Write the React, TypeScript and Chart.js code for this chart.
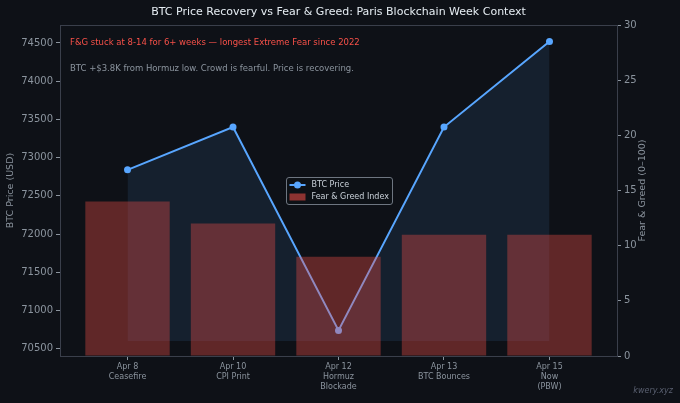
import { useEffect, useRef } from "react";
import { Chart, registerables } from "chart.js";

Chart.register(...registerables);

const categories: string[][] = [
  ["Apr 8", "Ceasefire"],
  ["Apr 10", "CPI Print"],
  ["Apr 12", "Hormuz", "Blockade"],
  ["Apr 13", "BTC Bounces"],
  ["Apr 15", "Now", "(PBW)"],
];
const btcPrice = [72840, 73400, 70740, 73400, 74520];
const fearGreed = [14, 12, 9, 11, 11];
const fillBase = 70600;
const priceTicks = [70500, 71000, 71500, 72000, 72500, 73000, 73500, 74000, 74500];
const fgTicks = [0, 5, 10, 15, 20, 25, 30];

const titleText = "BTC Price Recovery vs Fear & Greed: Paris Blockchain Week Context";
const noteRed = "F&G stuck at 8-14 for 6+ weeks \u2014 longest Extreme Fear since 2022";
const noteGrey = "BTC +$3.8K from Hormuz low. Crowd is fearful. Price is recovering.";
const leftTitle = "BTC Price (USD)";
const rightTitle = "Fear & Greed (0\u2013100)";
const watermark = "kwery.xyz";

const FONT = "'DejaVu Sans', sans-serif";
const BG = "#0e1117";
const TEXT = "#8b949e";
const SPINE = "#3a3f4b";
const BLUE = "#58a6ff";
const RED = "#f85149";

export default function App() {
  const ref = useRef<HTMLCanvasElement | null>(null);

  useEffect(() => {
    document.body.style.margin = "0";
    document.body.style.background = BG;
    const canvas = ref.current;
    if (!canvas) return;

    const decor = {
      id: "decor",
      beforeDraw(chart: any) {
        const c = chart.ctx;
        c.save();
        c.fillStyle = BG;
        c.fillRect(0, 0, chart.width, chart.height);
        c.restore();
      },
      afterDatasetsDraw(chart: any) {
        const c = chart.ctx;
        const a = chart.chartArea;
        c.save();
        c.strokeStyle = SPINE;
        c.lineWidth = 1;
        c.strokeRect(a.left + 0.5, a.top + 0.5, a.right - a.left, a.bottom - a.top);
        c.restore();
      },
      afterDraw(chart: any) {
        const c = chart.ctx;
        const a = chart.chartArea;
        const cx = (a.left + a.right) / 2;
        const cy = (a.top + a.bottom) / 2;
        c.save();
        // title
        c.fillStyle = "#e6edf3";
        c.font = `11px ${FONT}`;
        c.textAlign = "center";
        c.textBaseline = "middle";
        c.fillText(titleText, cx, 12);
        // notes
        c.textAlign = "left";
        c.font = `8.5px ${FONT}`;
        c.fillStyle = RED;
        c.fillText(noteRed, a.left + 10, 43);
        c.fillStyle = TEXT;
        c.fillText(noteGrey, a.left + 10, 69);
        // axis titles
        c.font = `9.5px ${FONT}`;
        c.fillStyle = TEXT;
        c.textAlign = "center";
        c.save();
        c.translate(11, cy);
        c.rotate(-Math.PI / 2);
        c.fillText(leftTitle, 0, 0);
        c.restore();
        c.save();
        c.translate(643, cy);
        c.rotate(-Math.PI / 2);
        c.fillText(rightTitle, 0, 0);
        c.restore();
        // legend
        const lw = 106, lh = 27;
        const lx = Math.round(cx - lw / 2) + 0.5, ly = Math.round(cy - lh / 2) + 0.5;
        c.beginPath();
        if ((c as any).roundRect) (c as any).roundRect(lx, ly, lw, lh, 2.5);
        else c.rect(lx, ly, lw, lh);
        c.fillStyle = "rgba(14,17,23,0.8)";
        c.fill();
        c.strokeStyle = "#6e7681";
        c.lineWidth = 1;
        c.stroke();
        const r1 = ly + 7.5, r2 = ly + 19.5;
        c.strokeStyle = BLUE;
        c.lineWidth = 2;
        c.beginPath();
        c.moveTo(lx + 3, r1);
        c.lineTo(lx + 19, r1);
        c.stroke();
        c.fillStyle = BLUE;
        c.beginPath();
        c.arc(lx + 11, r1, 3.5, 0, Math.PI * 2);
        c.fill();
        c.fillStyle = "rgba(248,81,73,0.55)";
        c.fillRect(lx + 3, r2 - 3.5, 16, 7);
        c.font = `8px ${FONT}`;
        c.fillStyle = "#c9d1d9";
        c.textAlign = "left";
        c.fillText("BTC Price", lx + 25, r1);
        c.fillText("Fear & Greed Index", lx + 25, r2);
        // watermark
        c.font = `italic 8px ${FONT}`;
        c.fillStyle = "#5a6070";
        c.textAlign = "right";
        c.fillText(watermark, 673, 391);
        c.restore();
      },
    };

    const chart = new Chart(canvas, {
      type: "line",
      data: {
        datasets: [
          {
            type: "bar",
            label: "Fear & Greed Index",
            data: fearGreed.map((v, i) => ({ x: i, y: v })),
            xAxisID: "x",
            yAxisID: "y2",
            backgroundColor: "rgba(248,81,73,0.35)",
            borderWidth: 0,
            barPercentage: 0.8,
            categoryPercentage: 1,
            order: 0,
          } as any,
          {
            type: "line",
            label: "BTC Price",
            data: btcPrice.map((v, i) => ({ x: i, y: v })),
            xAxisID: "x",
            yAxisID: "y",
            borderColor: BLUE,
            borderWidth: 2,
            pointRadius: 3.5,
            pointBackgroundColor: BLUE,
            pointBorderWidth: 0,
            tension: 0,
            fill: { value: fillBase },
            backgroundColor: "rgba(88,166,255,0.1)",
            order: 1,
          } as any,
        ],
      },
      options: {
        animation: false,
        responsive: false,
        layout: { padding: { top: 25, left: 0, right: 0, bottom: 0 } },
        plugins: {
          legend: { display: false },
          title: { display: false },
          tooltip: { enabled: false },
        },
        scales: {
          x: {
            type: "linear",
            min: -0.64,
            max: 4.64,
            offset: false,
            afterBuildTicks: (s: any) => {
              s.ticks = categories.map((_, i) => ({ value: i }));
            },
            afterFit: (s: any) => {
              s.height = 47;
            },
            ticks: {
              callback: (_v: any, i: number) => categories[i],
              color: TEXT,
              font: { family: FONT, size: 8, lineHeight: 1.25 },
              padding: 2,
              maxRotation: 0,
              autoSkip: false,
            },
            grid: { offset: false, drawOnChartArea: false, tickLength: 4, color: TEXT },
            border: { display: false },
          },
          y: {
            type: "linear",
            position: "left",
            min: 70405,
            max: 74735,
            afterBuildTicks: (s: any) => {
              s.ticks = priceTicks.map((v) => ({ value: v }));
            },
            afterFit: (s: any) => {
              s.width = 60;
            },
            ticks: {
              callback: (v: any) => String(v),
              color: TEXT,
              font: { family: FONT, size: 10 },
              padding: 3,
            },
            grid: { drawOnChartArea: false, tickLength: 4, color: TEXT },
            border: { display: false },
          },
          y2: {
            type: "linear",
            position: "right",
            min: 0,
            max: 30,
            afterBuildTicks: (s: any) => {
              s.ticks = fgTicks.map((v) => ({ value: v }));
            },
            afterFit: (s: any) => {
              s.width = 63;
            },
            ticks: {
              color: TEXT,
              font: { family: FONT, size: 10 },
              padding: 3,
            },
            grid: { drawOnChartArea: false, tickLength: 4, color: TEXT },
            border: { display: false },
          },
        },
      } as any,
      plugins: [decor],
    });

    return () => chart.destroy();
  }, []);

  return (
    <div style={{ width: 680, height: 403, background: BG }}>
      <canvas ref={ref} width={680} height={403} style={{ width: 680, height: 403, display: "block" }} />
    </div>
  );
}
